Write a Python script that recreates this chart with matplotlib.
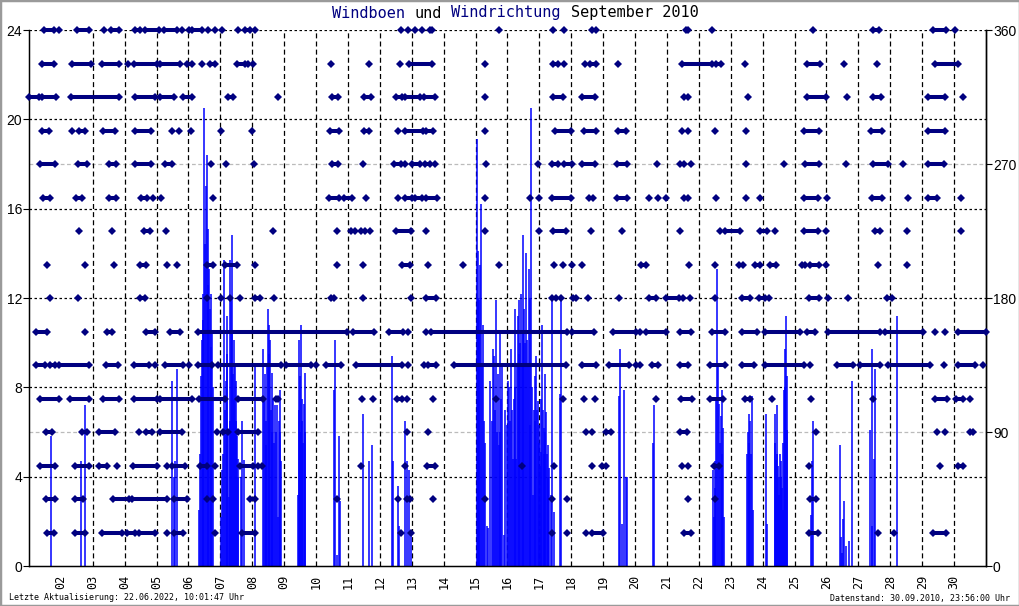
import matplotlib
matplotlib.use("Agg")
import matplotlib.pyplot as plt
from matplotlib.patches import Rectangle

# Zeit in Tagen seit 01.09.2010 00:00

tag_labels = ["%02d" % d for d in range(2, 31)]
tag_pos = list(range(1, 30))

# Windboen (t, m/s)
boen = [
    (0.70, 5.8), (1.625, 4.7), (1.75, 7.2),
    (4.48, 8.3), (4.53, 4.0), (4.58, 4.7), (4.64, 8.8),
    (5.33, 2.5), (5.36, 5.0), (5.39, 8.5), (5.42, 10.1), (5.45, 11.0), (5.47, 12.2), (5.50, 20.5),
    (5.52, 14.4), (5.545, 17.0), (5.57, 18.4), (5.60, 15.1), (5.625, 12.6), (5.65, 13.3),
    (5.67, 11.5), (5.69, 12.2), (5.71, 9.8), (5.73, 10.4), (5.76, 8.0),
    (6.02, 2.2), (6.06, 4.3), (6.09, 5.0), (6.125, 13.7), (6.15, 7.0), (6.17, 8.3), (6.20, 9.5),
    (6.22, 11.2), (6.25, 6.0), (6.27, 3.1), (6.29, 6.5), (6.31, 13.7), (6.33, 12.0), (6.35, 14.8),
    (6.375, 10.5), (6.40, 8.6), (6.42, 7.5), (6.44, 10.1), (6.46, 9.0), (6.48, 8.3), (6.50, 6.5),
    (6.52, 5.8), (6.54, 4.8), (6.56, 4.0),
    (6.65, 4.0), (6.69, 6.5), (6.73, 4.75), (7.08, 8.9),
    (7.34, 9.7), (7.36, 7.5), (7.39, 8.6), (7.42, 6.5), (7.44, 5.4), (7.46, 9.0), (7.48, 11.5),
    (7.51, 10.8), (7.53, 9.5), (7.55, 10.1), (7.58, 7.0), (7.61, 8.65), (7.63, 6.0), (7.66, 7.5),
    (7.69, 5.5), (7.72, 7.2), (7.745, 6.0), (7.77, 7.2), (7.80, 2.2), (7.83, 6.5), (7.86, 7.9),
    (7.88, 6.0), (7.90, 4.7),
    (8.42, 3.2), (8.45, 10.1), (8.47, 7.0), (8.49, 8.5), (8.51, 6.0), (8.53, 10.8), (8.55, 7.5),
    (8.57, 6.5), (8.60, 5.5), (8.62, 7.25), (8.64, 6.0), (8.66, 8.65),
    (9.56, 7.9), (9.59, 10.1), (9.66, 0.5), (9.72, 5.8), (9.75, 2.9),
    (10.47, 6.8), (10.66, 4.7), (10.76, 5.4),
    (11.39, 9.4), (11.42, 4.7), (11.57, 3.6), (11.61, 1.8), (11.80, 6.5), (11.85, 4.7),
    (11.90, 4.3), (11.96, 1.6),
    (14.04, 19.1), (14.06, 12.0), (14.08, 14.1), (14.10, 10.5), (14.12, 11.9), (14.15, 13.5),
    (14.18, 16.2), (14.20, 9.0), (14.22, 10.8), (14.25, 6.5), (14.30, 5.5), (14.35, 1.8),
    (14.40, 1.7), (14.46, 8.3), (14.51, 6.5), (14.56, 9.7), (14.59, 9.4), (14.62, 7.0),
    (14.64, 11.9), (14.67, 6.0), (14.69, 8.6), (14.72, 5.4), (14.75, 10.4), (14.78, 6.0),
    (14.80, 7.5), (14.84, 8.9), (14.89, 1.4), (14.93, 7.0), (14.98, 6.3), (15.03, 8.3),
    (15.06, 8.0), (15.09, 6.5), (15.11, 9.7), (15.14, 7.0), (15.17, 4.8), (15.20, 7.5),
    (15.22, 11.5), (15.25, 8.0), (15.27, 4.8), (15.30, 9.0), (15.32, 11.2), (15.35, 9.5),
    (15.375, 11.9), (15.40, 10.0), (15.43, 12.2), (15.45, 9.0), (15.48, 14.8), (15.50, 10.5),
    (15.53, 11.5), (15.56, 10.0), (15.58, 14.0), (15.61, 10.1), (15.635, 9.0), (15.66, 13.3),
    (15.69, 12.0), (15.72, 6.3), (15.75, 20.5), (15.77, 8.0), (15.79, 3.2), (15.82, 7.0),
    (15.85, 8.5), (15.875, 6.5), (15.90, 9.4), (15.925, 7.0), (15.95, 7.4), (15.975, 5.5),
    (16.0, 6.3), (16.02, 4.5), (16.04, 5.1), (16.06, 7.5), (16.08, 10.8), (16.10, 7.0),
    (16.13, 6.2), (16.15, 5.0), (16.17, 8.6), (16.19, 6.0), (16.21, 6.9), (16.235, 5.0),
    (16.26, 5.4), (16.28, 4.0), (16.31, 4.4), (16.35, 3.2), (16.40, 11.9), (16.47, 2.4),
    (16.65, 7.7), (16.69, 11.9),
    (18.50, 7.6), (18.53, 9.7), (18.60, 1.9), (18.65, 7.9), (18.71, 4.0), (18.74, 4.0),
    (19.56, 5.5), (19.60, 7.2),
    (21.44, 4.3), (21.47, 2.2), (21.50, 3.5), (21.52, 4.7), (21.55, 7.4), (21.58, 13.3),
    (21.60, 9.0), (21.63, 7.25), (21.655, 5.5), (21.68, 6.7), (21.71, 7.9), (21.73, 5.0),
    (21.75, 6.2), (21.78, 2.2),
    (22.51, 5.0), (22.535, 6.0), (22.56, 6.8), (22.58, 5.5), (22.60, 6.5), (22.625, 5.0),
    (22.65, 7.6), (22.69, 2.5),
    (23.10, 6.8), (23.14, 1.9),
    (23.375, 6.8), (23.40, 5.5), (23.42, 4.75), (23.44, 5.0), (23.46, 7.2), (23.48, 4.5),
    (23.50, 3.2), (23.52, 4.0), (23.54, 5.0), (23.56, 4.0), (23.58, 4.7), (23.60, 3.5),
    (23.625, 2.5), (23.65, 5.5), (23.67, 7.9), (23.69, 9.7), (23.71, 8.0), (23.73, 11.2),
    (23.75, 8.5), (23.77, 6.1),
    (24.50, 2.3), (24.54, 4.7), (24.57, 6.5),
    (25.42, 5.4), (25.46, 1.3), (25.48, 0.6), (25.53, 2.1), (25.56, 2.9), (25.60, 0.9),
    (25.72, 1.1), (25.81, 8.3),
    (26.375, 6.1), (26.42, 1.8), (26.44, 9.7), (26.48, 4.8), (26.52, 8.8),
    (27.20, 11.2),
]

# Windrichtung: einzelne Zeitpunkte oder (von, bis) Folgen dichter Messwerte
dir_360 = [(0.47, 0.78), 0.94, (1.51, 1.875), 2.34, (2.58, 2.83), (3.33, 3.49), (3.65, 4.06),
           (4.22, 4.64), 4.79, 5.0, (5.1, 5.42), 5.625, 5.83, 6.04, 6.56, (6.77, 6.93), 7.1,
           11.65, 11.89, 12.09, 12.32, (12.57, 12.63), 14.72, 16.42, 16.78, (17.65, 17.77),
           (20.58, 20.67), 21.42, 24.59, (26.47, 26.65), (28.34, 28.76), 29.02]
dir_337 = [(0.40, 0.78), (1.35, 1.93), (2.29, 2.83), 3.09, (3.28, 4.01), (4.11, 4.74),
           (4.95, 5.1), 5.42, (5.68, 5.83), (6.51, 6.77), 6.85, 7.03, 9.46, 10.66, 11.64,
           (11.91, 12.63), 14.30, (16.42, 16.57), 16.78, 17.44, (17.58, 17.77), 18.47,
           (20.48, 21.42), (21.54, 21.68), 22.44, (24.39, 24.80), 25.56, 26.57, (28.40, 29.13)]
dir_315 = [(0.0, 0.31), (0.40, 0.85), (1.33, 2.81), (3.31, 3.96), (4.11, 4.53), (4.84, 5.1),
           (6.25, 6.41), 7.79, (9.49, 9.70), (10.5, 10.71), (11.49, 11.70), (11.80, 12.27),
           (12.38, 12.74), 14.28, (16.42, 16.75), (17.33, 17.75), (20.53, 20.67), 22.54,
           (24.39, 24.98), 25.63, (26.47, 26.71), (28.19, 28.71), 29.28]
dir_292 = [(0.40, 0.63), 1.35, (1.56, 1.77), (2.31, 2.71), (3.31, 3.83), 4.48, 4.69, 5.07, 6.01,
           7.0, (9.43, 9.72), (10.5, 10.66), 11.56, (11.80, 12.34), (12.45, 12.66), 14.30,
           (16.49, 16.99), (17.40, 17.77), (18.47, 18.73), 20.46, 20.67, 21.52, 22.48,
           (24.29, 24.75), (26.40, 26.75), (28.17, 28.71)]
dir_270 = [(0.36, 0.81), (1.54, 1.82), (2.5, 2.73), (3.33, 3.83), (4.27, 4.48), 5.69, 6.18, 7.06,
           (9.51, 9.70), 10.48, (11.44, 11.65), 11.80, (12.01, 12.27), (12.41, 12.58), 12.74,
           14.32, 15.97, (16.39, 16.59), (16.78, 17.02), (17.33, 17.75), (18.42, 18.76), 19.7,
           (20.4, 20.53), 20.76, 22.48, 23.66, (24.32, 24.75), 25.60, (26.47, 26.92), 27.41,
           (28.17, 28.69)]
dir_247 = [(0.45, 0.65), (1.48, 1.65), (2.5, 2.73), (3.51, 3.70), 3.88, 4.15, 5.78,
           (9.39, 9.72), (9.88, 10.14), 10.55, 11.56, (11.78, 12.01), (12.11, 12.32),
           (12.45, 12.79), 14.30, 15.69, 15.98, (16.40, 16.99), (17.54, 17.69), (18.42, 18.76),
           19.44, 19.73, 19.96, (20.53, 20.67), 21.54, 22.48, 22.9, (24.29, 24.73), 25.01,
           (26.44, 26.73), 27.54, (28.17, 28.45), 29.23]
dir_225 = [1.58, 2.6, (3.59, 3.78), 4.28, 7.66, 9.64, (10.08, 10.22), (10.41, 10.52), 10.68,
           (11.51, 11.96), 12.43, 14.30, 16.0, (16.42, 16.83), 17.61, 18.58, 20.40, 21.65,
           (21.81, 22.3), (22.93, 23.14), 23.375, (24.29, 24.73), 24.98, (26.52, 26.68), 27.51,
           29.23]
dir_202 = [0.55, 1.75, 2.66, (3.49, 3.67), 4.34, 4.64, (5.57, 5.78), (6.15, 6.51), 7.1, 9.64,
           10.47, (11.70, 11.93), 12.51, 13.59, 14.72, 16.47, 16.75, 17.02, 17.35,
           (19.18, 19.35), 20.69, 21.52, (22.25, 22.38), (22.77, 22.93), (23.24, 23.42),
           (24.23, 24.33), (24.49, 24.77), 24.98, 26.62, 27.53]
dir_180 = [0.65, 1.54, (3.49, 3.65), 5.57, 6.02, 6.30, 6.61, (7.08, 7.24), 7.69, (9.46, 9.56),
           10.48, 11.96, (12.45, 12.76), (16.40, 16.52), 16.68, (17.04, 17.15), 17.51, 18.5,
           (19.44, 19.65), (19.96, 20.38), 20.5, 20.71, 21.52, (22.35, 22.61), (22.88, 23.06),
           23.21, (24.44, 24.77), 25.06, 25.67, (26.89, 27.06)]
dir_157 = [(0.21, 0.57), 1.77, (2.43, 2.6), (3.68, 3.94), (4.43, 4.74), (5.29, 9.98),
           (10.15, 10.81), (11.30, 11.72), 11.88, 12.46, (12.60, 16.88), (17.02, 17.72),
           (18.31, 19.04), 19.15, (19.35, 19.96), (20.40, 20.74), (21.40, 21.83), (22.35, 22.82),
           (23.06, 24.18), (24.39, 24.63), (25.04, 26.67), (26.83, 28.03), 28.40, 28.71,
           (29.11, 30.0)]
dir_135 = [(0.21, 0.5), (0.65, 0.83), (0.94, 1.88), (2.4, 2.79), (3.28, 3.75), 3.96, (4.27, 4.84),
           5.02, (5.29, 5.73), (5.94, 7.90), (8.07, 8.83), 8.99, (9.30, 9.77), (10.26, 11.70),
           11.88, 12.38, (12.51, 12.76), (13.31, 16.83), (17.33, 17.77), (18.19, 18.81),
           (19.02, 19.15), (19.52, 19.73), (20.40, 20.67), (21.36, 21.81), (22.35, 22.72),
           (23.08, 24.28), 24.49, (25.32, 25.84), (26.05, 26.67), (26.92, 28.24), 28.69,
           (29.11, 29.65), 29.91]
dir_112 = [(0.36, 0.94), (1.30, 1.88), (2.32, 2.83), (3.28, 4.01), (4.11, 5.1), (5.33, 6.15),
           (6.56, 7.34), (7.74, 7.82), 10.45, 10.78, (11.54, 11.70), 11.85, 12.66, 14.64, 16.73,
           17.39, 17.73, 19.67, (20.43, 20.79), (21.36, 21.77), (22.46, 22.61), 23.29, 24.52,
           26.47, (28.40, 28.79), (29.07, 29.28), 29.49]
dir_090 = [(0.54, 0.71), (1.67, 1.82), (2.21, 2.69), 3.44, (3.67, 3.85), (4.11, 4.79), 5.89,
           (6.09, 6.25), (6.56, 7.19), 11.85, 12.50, 17.46, 17.65, (18.08, 18.24),
           (20.40, 20.64), 24.67, 28.46, 28.71, (29.49, 29.59)]
dir_067 = [(0.36, 0.83), (1.44, 1.88), (2.21, 2.45), 2.76, (3.25, 4.01), 4.32, (4.48, 4.9),
           (5.36, 5.57), 5.83, (6.61, 7.03), (7.19, 7.31), 10.41, 11.80, (12.48, 12.72), 15.46,
           16.47, 17.65, (17.96, 18.10), 20.46, 20.67, (21.47, 21.63), 24.46, 28.56,
           (29.13, 29.28)]
dir_045 = [(0.52, 0.83), (1.44, 1.69), (2.63, 3.13), (3.23, 4.32), (4.53, 4.95), 5.57, 5.78,
           (6.93, 7.08), 9.64, 11.56, (11.85, 11.93), 12.66, 14.30, 16.40, 16.86, 20.67, 21.50,
           (24.49, 24.67)]
dir_022 = [(0.57, 0.78), (1.44, 1.77), (2.29, 2.92), (3.07, 3.33), (3.44, 3.96), 4.32,
           (4.53, 4.84), 5.83, (6.67, 7.08), 11.65, 11.96, 16.40, 16.86, 17.46, (17.65, 17.98),
           (20.53, 20.74), (24.44, 24.73), 26.6, 27.13, (28.34, 28.76)]

richtungen = [(360, dir_360), (337.5, dir_337), (315, dir_315), (292.5, dir_292),
              (270, dir_270), (247.5, dir_247), (225, dir_225), (202.5, dir_202),
              (180, dir_180), (157.5, dir_157), (135, dir_135), (112.5, dir_112),
              (90, dir_090), (67.5, dir_067), (45, dir_045), (22.5, dir_022)]

navy = "#000080"
blau = "#0000ff"

fig = plt.figure(figsize=(10.2, 6.06), dpi=100)
fig.patches.append(Rectangle((0, 0), 1, 1, transform=fig.transFigure, fill=False,
                             edgecolor="#9a9a9a", lw=2.5))
W, H = 1020.0, 606.0
ax = fig.add_axes([29 / W, 1 - 566 / H, 957 / W, 536 / H])
ax.set_xlim(0, 30)
ax.set_ylim(0, 24)

# Gitter
for y in [4, 8, 12, 16, 20, 24]:
    ax.axhline(y, color="black", lw=0.9, ls=(0, (2, 2)), zorder=0.5)
for y in [6, 18]:
    ax.axhline(y, color="#bbbbbb", lw=0.9, ls=(0, (3, 2)), zorder=0.5)
for x in range(2, 30):
    ax.axvline(x, color="black", lw=0.9, ls=(0, (4, 2.5)), zorder=0.5)

ax.vlines([b[0] for b in boen], 0, [b[1] for b in boen], color=blau, lw=1.1, zorder=2)

ax.set_yticks([0, 4, 8, 12, 16, 20, 24])
ax.set_xticks(tag_pos)
ax.set_xticklabels(tag_labels, rotation=90, family="DejaVu Sans Mono", fontsize=8.5)
ax.tick_params(axis="x", length=0, pad=6)
ax.tick_params(axis="y", length=4, width=0.8, labelsize=10, pad=1)
for lab in ax.get_yticklabels():
    lab.set_family("Liberation Sans")
ax.spines["top"].set_visible(False)
for s in ["left", "bottom", "right"]:
    ax.spines[s].set_linewidth(1.0)

ax2 = ax.twinx()
ax2.set_ylim(0, 360)
ax2.set_yticks([0, 90, 180, 270, 360])
ax2.tick_params(axis="y", length=4, width=0.8, labelsize=10, pad=1)
for lab in ax2.get_yticklabels():
    lab.set_family("Liberation Sans")
ax2.spines["top"].set_visible(False)
ax2.spines["right"].set_linewidth(1.0)
for grad, werte in richtungen:
    einzeln = []
    for w in werte:
        if isinstance(w, tuple):
            ax2.plot([w[0], w[1]], [grad, grad], color=navy, lw=2.9, solid_capstyle="butt",
                     marker="D", ms=3.6, markeredgewidth=0, zorder=3, clip_on=False)
        else:
            einzeln.append(w)
    ax2.plot(einzeln, [grad] * len(einzeln), ls="none", color=navy, marker="D", ms=3.6,
             markeredgewidth=0, zorder=3, clip_on=False)

# Titel
mono = "DejaVu Sans Mono"
cw = 9.18
teile = [("Windboen", 0, navy), ("und", 9, "black"), ("Windrichtung", 13, navy),
         ("September 2010", 26, "black")]
for txt, i, c in teile:
    fig.text((332 + i * cw) / W, 1 - 13 / H, txt, color=c, family=mono, fontsize=11,
             va="center", ha="left")

fig.text(9 / W, 1 - 598 / H, "Letzte Aktualisierung: 22.06.2022, 10:01:47 Uhr",
         family=mono, fontsize=6, va="center", ha="left")
fig.text(1010 / W, 1 - 598 / H, "Datenstand: 30.09.2010, 23:56:00 Uhr",
         family=mono, fontsize=6, va="center", ha="right")

fig.savefig("out.png", dpi=100)
